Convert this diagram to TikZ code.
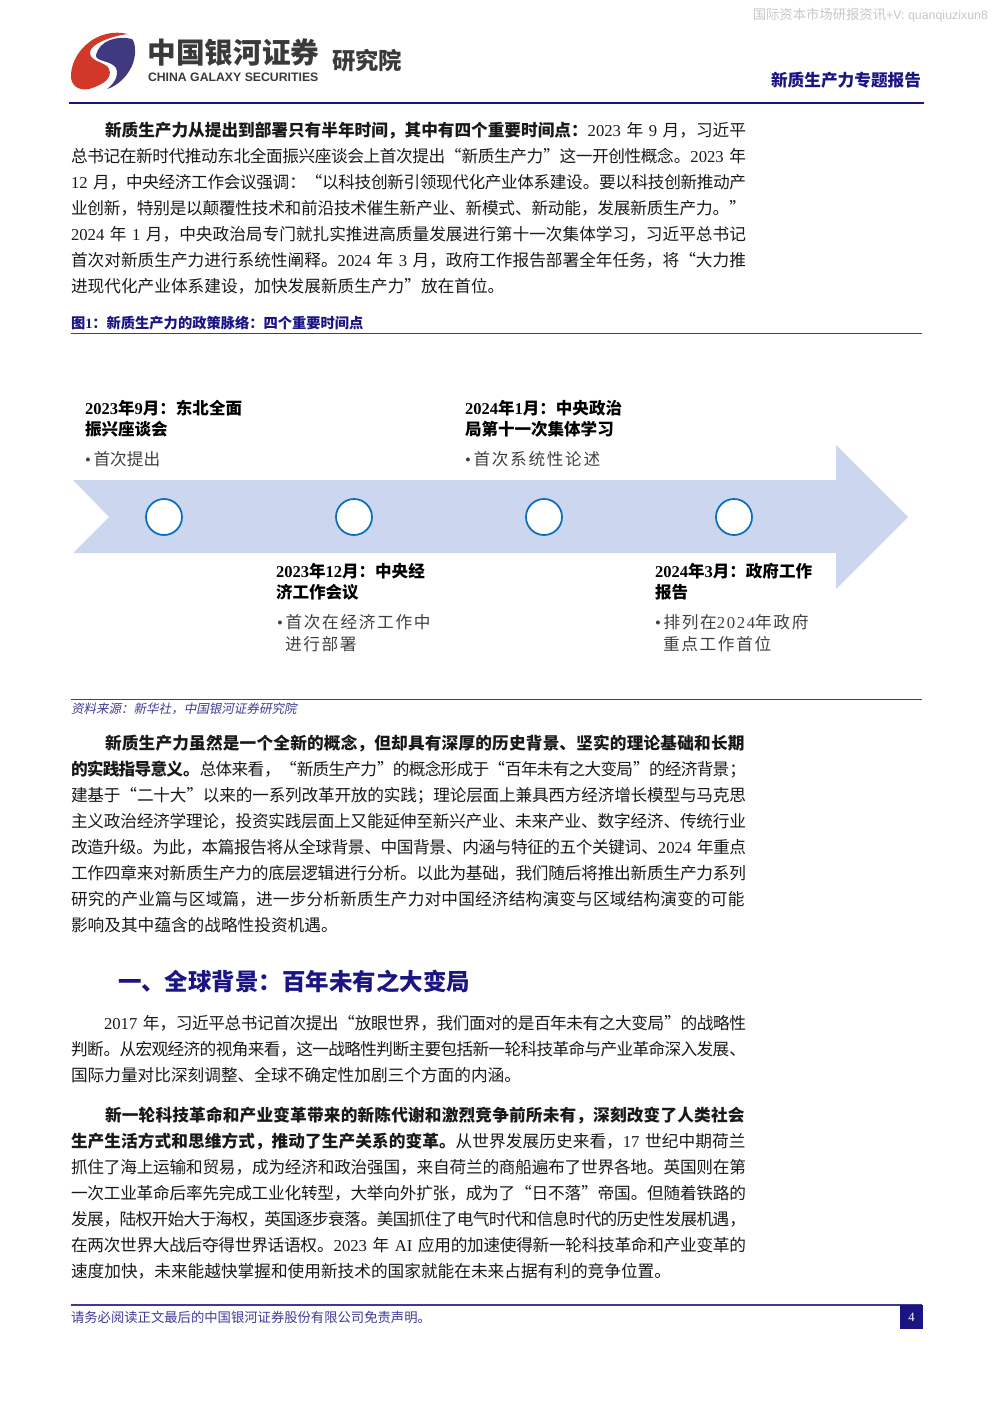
\documentclass[tikz,border=0pt]{standalone}
\usepackage{fontspec}
\setmainfont{Noto Sans CJK SC}
\newfontfamily\latfont{Liberation Serif}
\newfontfamily\spacedfont[LetterSpace=10]{Noto Sans CJK SC}
\newfontfamily\spacedlat[LetterSpace=10]{Liberation Serif}
\newfontfamily\srcfont[FakeSlant=0.2]{Noto Sans CJK SC}
\newfontfamily\wmfont{Liberation Sans}
\XeTeXlinebreaklocale "zh"
\XeTeXlinebreakskip=0pt plus 3pt minus 0.7pt
\tolerance=9999
\hbadness=10000
\hfuzz=20pt
\definecolor{navy}{HTML}{1B1583}
\definecolor{rulecol}{HTML}{3F3A96}
\definecolor{arrowfill}{HTML}{CCD6EE}
\definecolor{ringcol}{HTML}{0A6EBD}
\definecolor{logored}{HTML}{D2382A}
\definecolor{logoblue}{HTML}{3F3A80}
\definecolor{logoink}{HTML}{3A3A3A}
\newcommand\lat[1]{{\latfont #1}}
\newcommand\fl[1]{{\parfillskip=0pt #1\par}}
\newcommand\dotmark{{\latfont •}\kern2pt}
\begin{document}
\begin{tikzpicture}[x=0.75pt, y=-0.75pt, every node/.style={inner sep=0pt, outer sep=0pt},
    bodytext/.style={anchor=north west, text width=506.25pt, font=\fontsize{12.5}{19.5}\selectfont, text=black!90},
    headtext/.style={anchor=west, font=\fontsize{12}{15.75}\bfseries\selectfont, text=navy},
    whentext/.style={anchor=north west, align=left, font=\fontsize{12.4}{15.75}\bfseries\selectfont, text=black},
    whattext/.style={anchor=north west, align=left, font=\fontsize{12.5}{16.5}\spacedfont, text=black!75},
    ring/.style={circle, draw=ringcol, fill=white, line width=1.3pt, minimum size=27pt}]
  \useasboundingbox (0,0) rectangle (992,1403);

  \node (WM) at (988,15) [anchor=east, font=\fontsize{10}{12}\selectfont, text=black!22] {国际资本市场研报资讯{\wmfont\fontsize{9.3}{12}\selectfont +V: quanqiuzixun8}};

  \fill[logored] (128,34) .. controls (99,27) and (73,49) .. (71,74) .. controls (70,86) and (79,91) .. (89,89) .. controls (103,85) and (113,78) .. (109,69) .. controls (107,62) and (89,62) .. (90,52) .. controls (91,44) and (111,36) .. (128,34);
  \fill[logoblue] (132,39) .. controls (117,35) and (99,41) .. (96,55) .. controls (95,62) and (111,60) .. (116,68) .. controls (119,75) and (115,83) .. (107,89) .. controls (121,85) and (136,68) .. (135,50) .. controls (135,45) and (134,41) .. (132,39);
  \node (CN) at (147.5,53) [anchor=west, font=\fontsize{21.5}{24}\bfseries\selectfont, text=logoink] {中国银河证券};
  \node (EN) at (148,77) [anchor=west, font=\fontsize{9.2}{11}\bfseries\wmfont, text=logoink] {CHINA GALAXY SECURITIES};
  \node (RI) at (332,61) [anchor=west, font=\fontsize{17.5}{20}\bfseries\selectfont, text=logoink] {研究院};
  \node (RT) at (921,80) [anchor=east, font=\fontsize{12.5}{15}\bfseries\selectfont, text=navy] {新质生产力专题报告};
  \draw[navy, line width=1.1pt] (69,103) -- (924,103);

  \node (P1) at (71,122) [bodytext] {%
    \fl{\hspace*{25.5pt}\textbf{新质生产力从提出到部署只有半年时间，其中有四个重要时间点：}\lat{2023} 年 \lat{9} 月，习近平}
    \fl{总书记在新时代推动东北全面振兴座谈会上首次提出“新质生产力”这一开创性概念。\lat{2023} 年}
    \fl{\lat{12} 月，中央经济工作会议强调：“以科技创新引领现代化产业体系建设。要以科技创新推动产}
    \fl{业创新，特别是以颠覆性技术和前沿技术催生新产业、新模式、新动能，发展新质生产力。”}
    \fl{\lat{2024} 年 \lat{1} 月，中央政治局专门就扎实推进高质量发展进行第十一次集体学习，习近平总书记}
    \fl{首次对新质生产力进行系统性阐释。\lat{2024} 年 \lat{3} 月，政府工作报告部署全年任务，将“大力推}
    进现代化产业体系建设，加快发展新质生产力”放在首位。};

  \node (FIG) at (71,323) [headtext, font=\fontsize{10.7}{13}\bfseries\selectfont] {图\lat{1}：新质生产力的政策脉络：四个重要时间点};
  \draw[rulecol, line width=0.75pt] (71,333) -- (922,333);

  \fill[arrowfill] (73,480) -- (836,480) -- (836,445) -- (908,517) -- (836,589) -- (836,553) -- (73,553) -- (109,517) -- cycle;
  \node (M1) at (164,517) [ring] {};
  \node (M2) at (354,517) [ring] {};
  \node (M3) at (544,517) [ring] {};
  \node (M4) at (734,517) [ring] {};

  \node (T1) at (85,400) [whentext] {\lat{2023}年\lat{9}月：东北全面\\振兴座谈会};
  \node (D1) at (85,451) [whattext, font=\fontsize{12.5}{16.5}\selectfont] {\dotmark 首次提出};
  \node (T2) at (276,563) [whentext] {\lat{2023}年\lat{12}月：中央经\\济工作会议};
  \node (D2) at (277,614) [whattext] {\dotmark 首次在经济工作中\\\hspace*{6pt}进行部署};
  \node (T3) at (465,400) [whentext] {\lat{2024}年\lat{1}月：中央政治\\局第十一次集体学习};
  \node (D3) at (465,451) [whattext] {\dotmark 首次系统性论述};
  \node (T4) at (655,563) [whentext] {\lat{2024}年\lat{3}月：政府工作\\报告};
  \node (D4) at (655,614) [whattext] {\dotmark 排列在{\spacedlat 2024}年政府\\\hspace*{6pt}重点工作首位};

  \draw[rulecol, line width=0.75pt] (71,699) -- (922,699);
  \node (SRC) at (71,709) [anchor=west, font=\fontsize{9.4}{12}\srcfont, text=rulecol] {资料来源：新华社，中国银河证券研究院};

  \node (P2) at (71,735) [bodytext] {%
    \fl{\hspace*{25.5pt}\textbf{新质生产力虽然是一个全新的概念，但却具有深厚的历史背景、坚实的理论基础和长期}}
    \fl{\textbf{的实践指导意义。}总体来看，“新质生产力”的概念形成于“百年未有之大变局”的经济背景；}
    \fl{建基于“二十大”以来的一系列改革开放的实践；理论层面上兼具西方经济增长模型与马克思}
    \fl{主义政治经济学理论，投资实践层面上又能延伸至新兴产业、未来产业、数字经济、传统行业}
    \fl{改造升级。为此，本篇报告将从全球背景、中国背景、内涵与特征的五个关键词、\lat{2024} 年重点}
    \fl{工作四章来对新质生产力的底层逻辑进行分析。以此为基础，我们随后将推出新质生产力系列}
    \fl{研究的产业篇与区域篇，进一步分析新质生产力对中国经济结构演变与区域结构演变的可能}
    影响及其中蕴含的战略性投资机遇。};

  \node (SEC) at (118,981) [headtext, font=\fontsize{17.6}{21}\bfseries\selectfont] {一、全球背景：百年未有之大变局};

  \node (P3) at (71,1015) [bodytext] {%
    \fl{\hspace*{24.75pt}\lat{2017} 年，习近平总书记首次提出“放眼世界，我们面对的是百年未有之大变局”的战略性}
    \fl{判断。从宏观经济的视角来看，这一战略性判断主要包括新一轮科技革命与产业革命深入发展、}
    国际力量对比深刻调整、全球不确定性加剧三个方面的内涵。};

  \node (P4) at (71,1107) [bodytext] {%
    \fl{\hspace*{25.5pt}\textbf{新一轮科技革命和产业变革带来的新陈代谢和激烈竞争前所未有，深刻改变了人类社会}}
    \fl{\textbf{生产生活方式和思维方式，推动了生产关系的变革。}从世界发展历史来看，\lat{17} 世纪中期荷兰}
    \fl{抓住了海上运输和贸易，成为经济和政治强国，来自荷兰的商船遍布了世界各地。英国则在第}
    \fl{一次工业革命后率先完成工业化转型，大举向外扩张，成为了“日不落”帝国。但随着铁路的}
    \fl{发展，陆权开始大于海权，英国逐步衰落。美国抓住了电气时代和信息时代的历史性发展机遇，}
    \fl{在两次世界大战后夺得世界话语权。\lat{2023} 年 \lat{AI} 应用的加速使得新一轮科技革命和产业变革的}
    速度加快，未来能越快掌握和使用新技术的国家就能在未来占据有利的竞争位置。};

  \draw[rulecol, line width=1.5pt] (71,1305) -- (922,1305);
  \node (FT) at (71,1317.5) [anchor=west, font=\fontsize{10}{12}\selectfont, text=rulecol] {请务必阅读正文最后的中国银河证券股份有限公司免责声明。};
  \node (PG) at (911.5,1317) [fill=navy, minimum width=17.25pt, minimum height=18pt, text=white, font=\fontsize{9.5}{11}\latfont] {4};
\end{tikzpicture}
\end{document}
